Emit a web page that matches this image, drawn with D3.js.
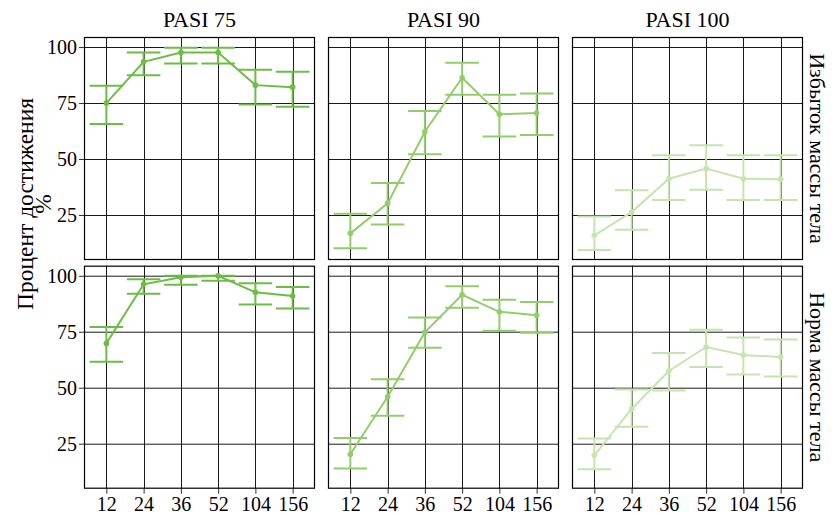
<!DOCTYPE html>
<html>
<head>
<meta charset="utf-8">
<script src="https://cdn.jsdelivr.net/npm/d3@7"></script>
</head>
<body style="margin:0">
<div id="chart"></div>
<script>
const width = 840;
const height = 515;

// Facets and x categories
const weeks = ["12", "24", "36", "52", "104", "156"];
const metrics = ["PASI 75", "PASI 90", "PASI 100"];
const groups = ["Избыток массы тела", "Норма массы тела"];
const metricColors = ["#6cbc46", "#92cd6c", "#c6e5ae"];
const yTicks = [25, 50, 75, 100];

// Избыток массы тела: one row per metric (PASI 75, 90, 100)
const excessMean = [
  [75.0, 93.4, 97.6, 97.6, 83.0, 82.1],
  [16.8, 30.2, 62.2, 86.3, 70.0, 70.5],
  [15.9, 26.3, 41.2, 45.8, 41.2, 41.0]
];
const excessLow = [
  [65.6, 87.4, 92.7, 92.7, 74.4, 73.4],
  [10.1, 20.7, 52.1, 78.7, 60.1, 60.7],
  [9.4, 18.4, 31.7, 36.3, 31.7, 31.7]
];
const excessHigh = [
  [82.7, 97.6, 99.7, 99.7, 89.9, 89.0],
  [25.6, 39.3, 71.4, 93.0, 78.7, 79.3],
  [24.3, 36.0, 51.7, 56.1, 51.7, 51.7]
];

// Норма массы тела
const normalMean = [
  [69.8, 96.2, 99.3, 100.0, 92.6, 91.0],
  [20.3, 46.0, 74.7, 91.5, 83.9, 82.4],
  [19.8, 40.5, 57.5, 68.2, 64.6, 63.7]
];
const normalLow = [
  [61.6, 92.0, 96.0, 97.8, 87.2, 85.4],
  [13.9, 37.5, 67.9, 85.7, 75.5, 74.6],
  [13.6, 32.6, 48.8, 59.3, 55.9, 55.0]
];
const normalHigh = [
  [77.1, 98.5, 100.0, 100.0, 96.7, 95.0],
  [27.5, 53.8, 81.4, 95.3, 89.3, 88.3],
  [27.3, 49.2, 65.5, 75.9, 72.4, 71.5]
];

const means = [excessMean, normalMean];
const lows = [excessLow, normalLow];
const highs = [excessHigh, normalHigh];

// Layout
const panelLeft = 84;
const panelTop = 37;
const panelW = 231;
const panelH = 223;
const gapX = 13;
const gapY = 5.7;
const font = "Liberation Serif";
const tickSize = 20;
const stripSize = 22;
const titleSize = 23.5;

const svg = d3.select("#chart").append("svg")
    .attr("width", width)
    .attr("height", height);

const x = d3.scalePoint()
    .domain(weeks)
    .range([0, panelW])
    .padding(0.6);

const y = d3.scaleLinear()
    .domain([4.9, 104.5])
    .range([panelH, 0]);

const capW = x.step() * 0.9;

groups.forEach((group, r) => {
  metrics.forEach((metric, c) => {
    const px = panelLeft + c * (panelW + gapX);
    const py = panelTop + r * (panelH + gapY);
    const g = svg.append("g").attr("transform", `translate(${px},${py})`);

    const rows = weeks.map((w, i) => ({
      week: w,
      mean: means[r][c][i],
      low: lows[r][c][i],
      high: highs[r][c][i]
    }));

    // grid
    g.append("g")
        .attr("stroke", "#1a1a1a")
        .attr("stroke-width", 1)
        .call(gg => gg.selectAll("line.h")
            .data(yTicks)
            .join("line")
            .attr("x1", 0).attr("x2", panelW)
            .attr("y1", d => Math.round(y(d)) + 0.5)
            .attr("y2", d => Math.round(y(d)) + 0.5))
        .call(gg => gg.selectAll("line.v")
            .data(weeks)
            .join("line")
            .attr("y1", 0).attr("y2", panelH)
            .attr("x1", d => Math.round(x(d)) + 0.5)
            .attr("x2", d => Math.round(x(d)) + 0.5));

    const color = metricColors[c];

    // error bars
    const eb = g.append("g")
        .attr("stroke", color)
        .attr("stroke-width", 2)
        .selectAll("g")
        .data(rows)
        .join("g");
    eb.append("line")
        .attr("x1", d => x(d.week)).attr("x2", d => x(d.week))
        .attr("y1", d => y(d.low)).attr("y2", d => y(d.high));
    eb.append("line")
        .attr("x1", d => x(d.week) - capW / 2).attr("x2", d => x(d.week) + capW / 2)
        .attr("y1", d => y(d.low)).attr("y2", d => y(d.low));
    eb.append("line")
        .attr("x1", d => x(d.week) - capW / 2).attr("x2", d => x(d.week) + capW / 2)
        .attr("y1", d => y(d.high)).attr("y2", d => y(d.high));

    // line + points
    g.append("path")
        .datum(rows)
        .attr("fill", "none")
        .attr("stroke", color)
        .attr("stroke-width", 2)
        .attr("d", d3.line().x(d => x(d.week)).y(d => y(d.mean)));

    g.append("g")
        .attr("fill", color)
        .selectAll("circle")
        .data(rows)
        .join("circle")
        .attr("cx", d => x(d.week))
        .attr("cy", d => y(d.mean))
        .attr("r", 2.8);

    // panel border
    g.append("rect")
        .attr("x", 0.5).attr("y", 0.5)
        .attr("width", panelW - 1).attr("height", panelH - 1)
        .attr("fill", "none")
        .attr("stroke", "#000")
        .attr("stroke-width", 1.2);

    // y axis on the first column
    if (c === 0) {
      g.append("g")
          .call(d3.axisLeft(y).tickValues(yTicks).tickSize(5).tickPadding(2))
          .call(a => a.select(".domain").remove())
          .call(a => a.selectAll("line").attr("stroke", "#333"))
          .call(a => a.selectAll("text")
              .attr("fill", "#000")
              .attr("font-family", font)
              .attr("font-size", tickSize));
    }

    // x axis on the bottom row
    if (r === groups.length - 1) {
      g.append("g")
          .attr("transform", `translate(0,${panelH})`)
          .call(d3.axisBottom(x).tickSize(5).tickPadding(3))
          .call(a => a.select(".domain").remove())
          .call(a => a.selectAll("line").attr("stroke", "#333"))
          .call(a => a.selectAll("text")
              .attr("fill", "#000")
              .attr("font-family", font)
              .attr("font-size", tickSize));
    }

    // top strips
    if (r === 0) {
      svg.append("text")
          .attr("x", px + panelW / 2)
          .attr("y", 27)
          .attr("text-anchor", "middle")
          .attr("font-family", font)
          .attr("font-size", stripSize)
          .text(metric);
    }
  });

  // right strip
  const cy = panelTop + r * (panelH + gapY) + panelH / 2;
  svg.append("text")
      .attr("transform", `translate(810,${cy}) rotate(90)`)
      .attr("text-anchor", "middle")
      .attr("font-family", font)
      .attr("font-size", stripSize)
      .text(group);
});

// y axis title
const yTitle = svg.append("text")
    .attr("transform", "translate(33,204) rotate(-90)")
    .attr("text-anchor", "middle")
    .attr("font-family", font)
    .attr("font-size", titleSize);
yTitle.append("tspan").attr("x", 0).attr("dy", 0).text("Процент достижения");
yTitle.append("tspan").attr("x", 0).attr("dy", "0.75em").text("%");
</script>
</body>
</html>
